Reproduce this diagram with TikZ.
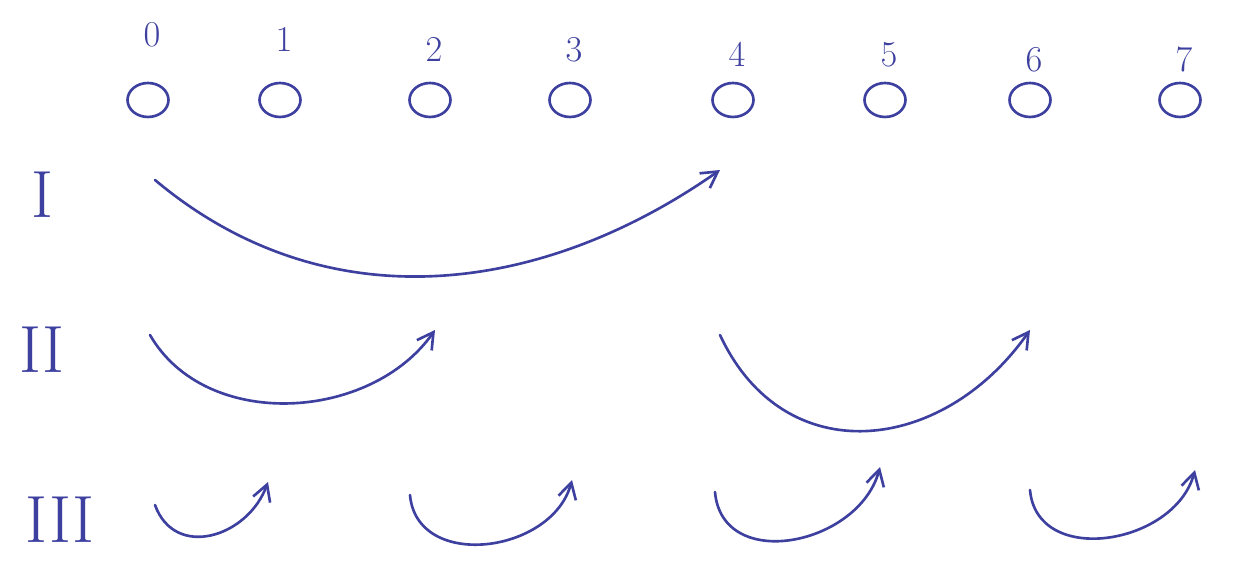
\documentclass[tikz,border=0pt]{standalone}
\usepackage{amssymb,amsmath}
\usepackage{tikz}
\usetikzlibrary{arrows.meta,shapes.geometric}
\definecolor{ink}{RGB}{62,64,160}

\begin{document}
\begin{tikzpicture}[x=0.02cm, y=0.02cm, >={Straight Barb[length=3.2mm,width=3.6mm]},
		ink, line width=1.5pt, line cap=round,
		site/.style={ellipse, draw, minimum width=0.82cm, minimum height=0.68cm, inner sep=0pt},
		idx/.style={font=\huge},
		stage/.style={font=\fontsize{38}{40}\selectfont}]
		\useasboundingbox (0,0) rectangle (1234,567);
		% sites 0..7 and their indices
		\foreach \i/\x/\ly in {0/148/532, 1/280/527, 2/430/517, 3/570/517, 4/733/512, 5/885/512, 6/1030/507, 7/1180/507} {
			\node[site] (c\i) at (\x,467) {};
			\node[idx] (n\i) at (\x+4,\ly) {$\i$};
		}
		% stage labels
		\node[stage] (rI) at (42,372) {I};
		\node[stage] (rII) at (42,217) {II};
		\node[stage] (rIII) at (60,47) {III};
		% end points of the jumps
		\coordinate (I-s) at (155,387);
		\coordinate (I-e) at (720,397);
		\coordinate (IIa-s) at (150,232);
		\coordinate (IIa-e) at (435,237);
		\coordinate (IIb-s) at (720,232);
		\coordinate (IIb-e) at (1030,237);
		\coordinate (IIIa-s) at (155,62);
		\coordinate (IIIa-e) at (268,85);
		\coordinate (IIIb-s) at (410,72);
		\coordinate (IIIb-e) at (572,87);
		\coordinate (IIIc-s) at (715,75);
		\coordinate (IIIc-e) at (880,100);
		\coordinate (IIId-s) at (1030,77);
		\coordinate (IIId-e) at (1195,97);
		% stage I: distance 4
		\draw[->] (I-s) to[out=-40,in=-145] (I-e);
		% stage II: distance 2
		\draw[->] (IIa-s) to[out=-60,in=-125] (IIa-e);
		\draw[->] (IIb-s) to[out=-65,in=-125,looseness=1.25] (IIb-e);
		% stage III: distance 1
		\draw[->] (IIIa-s) to[out=-70,in=-110,looseness=1.3] (IIIa-e);
		\draw[->] (IIIb-s) to[out=-85,in=-105,looseness=1.2] (IIIb-e);
		\draw[->] (IIIc-s) to[out=-85,in=-105,looseness=1.25] (IIIc-e);
		\draw[->] (IIId-s) to[out=-85,in=-105,looseness=1.2] (IIId-e);
	\end{tikzpicture}
\end{document}
